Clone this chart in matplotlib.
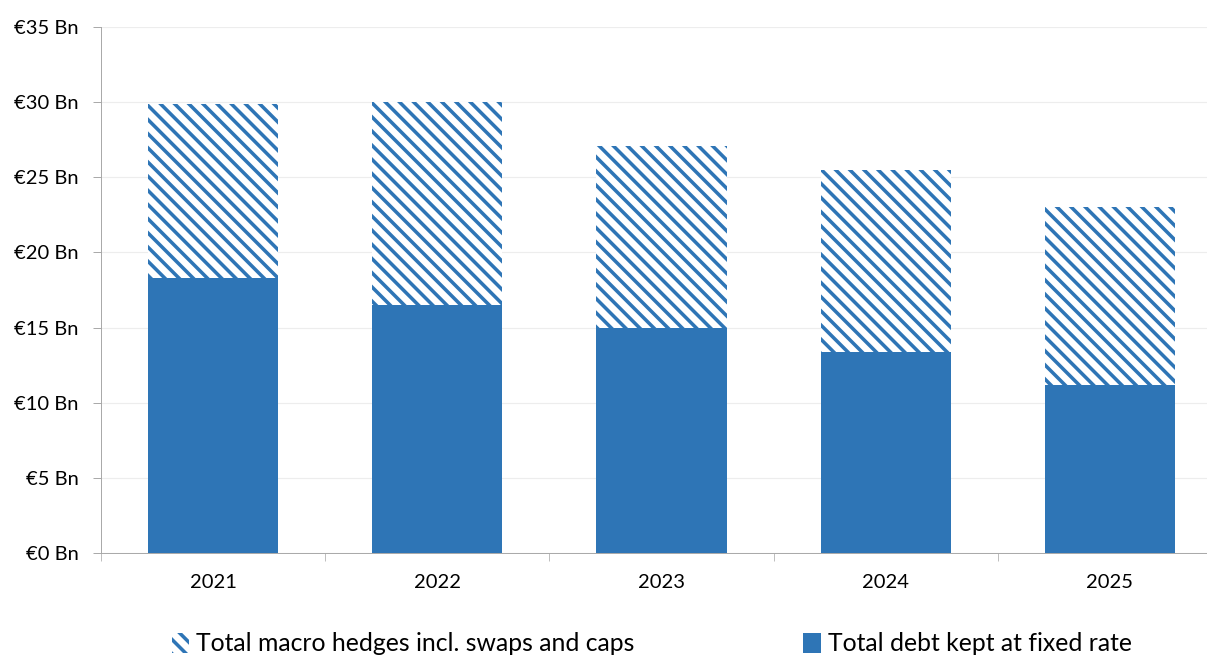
import numpy as np
import matplotlib.pyplot as plt
from matplotlib.ticker import FixedLocator, FuncFormatter

years = ['2021', '2022', '2023', '2024', '2025']
fixed_debt = [18.3, 16.5, 15.0, 13.4, 11.2]
total_hedged = [29.9, 30.0, 27.1, 25.5, 23.0]
macro_hedges = [t - f for t, f in zip(total_hedged, fixed_debt)]

blue = '#2E75B6'
dpi = 85
plt.rcParams['font.family'] = ['Lato', 'DejaVu Sans']
plt.rcParams['hatch.linewidth'] = 3.0

fig = plt.figure(figsize=(1207 / dpi, 657 / dpi), dpi=dpi)
ax = fig.add_axes([101 / 1207, 1 - 553 / 657, 1121 / 1207, 526 / 657])

x = np.arange(len(years))
b1 = ax.bar(x, fixed_debt, width=0.58, color=blue, linewidth=0, zorder=3)
b2 = ax.bar(x, macro_hedges, width=0.58, bottom=fixed_debt, facecolor='white',
            edgecolor=blue, hatch='\\\\', linewidth=0, zorder=3)

ax.set_xlim(-0.5, 4.5)
ax.set_ylim(0, 35)
ax.set_yticks(np.arange(0, 36, 5))
ax.yaxis.set_major_formatter(FuncFormatter(lambda v, p: '€%d Bn' % v))
ax.yaxis.grid(True, color='#EDEDED', linewidth=1, zorder=0)

ax.set_xticks(x)
ax.set_xticklabels(years)
ax.xaxis.set_minor_locator(FixedLocator(np.arange(-0.5, 5, 1)))
ax.tick_params(axis='x', which='major', length=0, pad=18, labelsize=17)
ax.tick_params(axis='x', which='minor', length=7, color='#A6A6A6')
ax.tick_params(axis='y', length=7, color='#A6A6A6', labelsize=17, pad=12)

for s in ['top', 'right']:
    ax.spines[s].set_visible(False)
for s in ['left', 'bottom']:
    ax.spines[s].set_color('#A6A6A6')

fig.legend([b2, b1], ['Total macro hedges incl. swaps and caps', 'Total debt kept at fixed rate'],
           loc='center', bbox_to_anchor=(0.54, 0.02), ncol=2, frameon=False,
           fontsize=21, handlelength=0.7, handleheight=0.9, handletextpad=0.3,
           columnspacing=6.8)

fig.savefig('out.png', dpi=dpi)
